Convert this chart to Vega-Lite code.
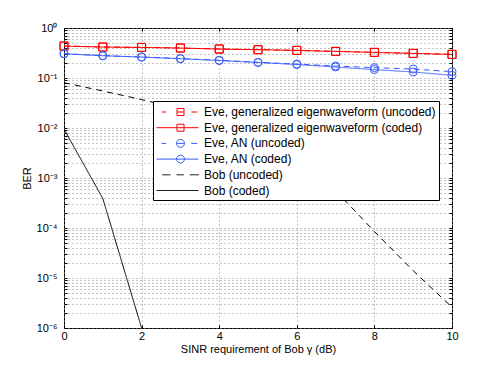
{
  "$schema": "https://vega.github.io/schema/vega-lite/v6.json",
  "autosize": "none",
  "width": 388,
  "height": 300,
  "padding": {"left": 64, "top": 28, "right": 46, "bottom": 42},
  "background": "white",
  "config": {
    "font": "Liberation Sans",
    "view": {"stroke": "black", "strokeWidth": 1},
    "axis": {
      "labelFont": "Liberation Sans", "labelFontSize": 11, "labelColor": "black",
      "titleFont": "Liberation Sans", "titleFontSize": 11, "titleFontWeight": "normal", "titleColor": "black",
      "domain": false, "tickColor": "black", "tickSize": -3, "tickWidth": 1,
      "gridColor": "#888", "gridDash": [1, 3], "gridWidth": 1, "gridOpacity": 1
    },
    "legend": {
      "orient": "none", "legendX": 89, "legendY": 73,
      "padding": 3, "strokeColor": "black", "fillColor": "white",
      "symbolSize": 225, "symbolStrokeWidth": 1, "labelOffset": 32,
      "labelFont": "Liberation Sans", "labelFontSize": 12, "labelColor": "black",
      "labelLimit": 0, "rowPadding": 1.7, "title": null
    }
  },
  "data": {
    "values": [
      {"series": "Eve, generalized eigenwaveform (uncoded)", "x": 0, "ber": 0.436},
      {"series": "Eve, generalized eigenwaveform (uncoded)", "x": 1, "ber": 0.417},
      {"series": "Eve, generalized eigenwaveform (uncoded)", "x": 2, "ber": 0.41},
      {"series": "Eve, generalized eigenwaveform (uncoded)", "x": 3, "ber": 0.398},
      {"series": "Eve, generalized eigenwaveform (uncoded)", "x": 4, "ber": 0.38},
      {"series": "Eve, generalized eigenwaveform (uncoded)", "x": 5, "ber": 0.369},
      {"series": "Eve, generalized eigenwaveform (uncoded)", "x": 6, "ber": 0.357},
      {"series": "Eve, generalized eigenwaveform (uncoded)", "x": 7, "ber": 0.341},
      {"series": "Eve, generalized eigenwaveform (uncoded)", "x": 8, "ber": 0.326},
      {"series": "Eve, generalized eigenwaveform (uncoded)", "x": 9, "ber": 0.311},
      {"series": "Eve, generalized eigenwaveform (uncoded)", "x": 10, "ber": 0.297},
      {"series": "Eve, generalized eigenwaveform (coded)", "x": 0, "ber": 0.434},
      {"series": "Eve, generalized eigenwaveform (coded)", "x": 1, "ber": 0.416},
      {"series": "Eve, generalized eigenwaveform (coded)", "x": 2, "ber": 0.408},
      {"series": "Eve, generalized eigenwaveform (coded)", "x": 3, "ber": 0.397},
      {"series": "Eve, generalized eigenwaveform (coded)", "x": 4, "ber": 0.379},
      {"series": "Eve, generalized eigenwaveform (coded)", "x": 5, "ber": 0.368},
      {"series": "Eve, generalized eigenwaveform (coded)", "x": 6, "ber": 0.356},
      {"series": "Eve, generalized eigenwaveform (coded)", "x": 7, "ber": 0.34},
      {"series": "Eve, generalized eigenwaveform (coded)", "x": 8, "ber": 0.325},
      {"series": "Eve, generalized eigenwaveform (coded)", "x": 9, "ber": 0.31},
      {"series": "Eve, generalized eigenwaveform (coded)", "x": 10, "ber": 0.296},
      {"series": "Eve, AN (uncoded)", "x": 0, "ber": 0.307},
      {"series": "Eve, AN (uncoded)", "x": 1, "ber": 0.28},
      {"series": "Eve, AN (uncoded)", "x": 2, "ber": 0.263},
      {"series": "Eve, AN (uncoded)", "x": 3, "ber": 0.244},
      {"series": "Eve, AN (uncoded)", "x": 4, "ber": 0.226},
      {"series": "Eve, AN (uncoded)", "x": 5, "ber": 0.206},
      {"series": "Eve, AN (uncoded)", "x": 6, "ber": 0.19},
      {"series": "Eve, AN (uncoded)", "x": 7, "ber": 0.174},
      {"series": "Eve, AN (uncoded)", "x": 8, "ber": 0.161},
      {"series": "Eve, AN (uncoded)", "x": 9, "ber": 0.151},
      {"series": "Eve, AN (uncoded)", "x": 10, "ber": 0.134},
      {"series": "Eve, AN (coded)", "x": 0, "ber": 0.305},
      {"series": "Eve, AN (coded)", "x": 1, "ber": 0.279},
      {"series": "Eve, AN (coded)", "x": 2, "ber": 0.262},
      {"series": "Eve, AN (coded)", "x": 3, "ber": 0.243},
      {"series": "Eve, AN (coded)", "x": 4, "ber": 0.224},
      {"series": "Eve, AN (coded)", "x": 5, "ber": 0.204},
      {"series": "Eve, AN (coded)", "x": 6, "ber": 0.186},
      {"series": "Eve, AN (coded)", "x": 7, "ber": 0.166},
      {"series": "Eve, AN (coded)", "x": 8, "ber": 0.147},
      {"series": "Eve, AN (coded)", "x": 9, "ber": 0.132},
      {"series": "Eve, AN (coded)", "x": 10, "ber": 0.113},
      {"series": "Bob (uncoded)", "x": 0, "ber": 0.0805},
      {"series": "Bob (uncoded)", "x": 1, "ber": 0.055},
      {"series": "Bob (uncoded)", "x": 2, "ber": 0.037},
      {"series": "Bob (uncoded)", "x": 3, "ber": 0.024},
      {"series": "Bob (uncoded)", "x": 4, "ber": 0.0135},
      {"series": "Bob (uncoded)", "x": 5, "ber": 0.0063},
      {"series": "Bob (uncoded)", "x": 6, "ber": 0.0022},
      {"series": "Bob (uncoded)", "x": 7, "ber": 0.00056},
      {"series": "Bob (uncoded)", "x": 8, "ber": 0.000085},
      {"series": "Bob (uncoded)", "x": 9, "ber": 0.000014},
      {"series": "Bob (uncoded)", "x": 10, "ber": 0.0000026},
      {"series": "Bob (coded)", "x": 0, "ber": 0.0095},
      {"series": "Bob (coded)", "x": 1, "ber": 0.00039},
      {"series": "Bob (coded)", "x": 2, "ber": 0.000001}
    ]
  },
  "resolve": {
    "scale": {"color": "independent", "shape": "independent", "strokeDash": "independent"},
    "axis": {"x": "independent", "y": "independent"}
  },
  "layer": [
    {
      "mark": {"type": "line", "strokeWidth": 1, "clip": true},
      "encoding": {
        "x": {
          "field": "x", "type": "quantitative",
          "scale": {"domain": [0, 10], "nice": false, "zero": false},
          "axis": {"values": [0, 2, 4, 6, 8, 10], "title": "SINR requirement of Bob γ (dB)", "labelPadding": 5, "titlePadding": 2, "labelFlush": false}
        },
        "y": {
          "field": "ber", "type": "quantitative",
          "scale": {"type": "log", "domain": [0.000001, 1], "nice": false},
          "axis": {
            "title": "BER", "titlePadding": 4, "labelPadding": 10, "labelOverlap": false, "labelBound": false,
            "values": [0.000001,0.000002,0.000003,0.000004,0.000005,0.000006,0.000007,0.000008,0.000009,
                       0.00001,0.00002,0.00003,0.00004,0.00005,0.00006,0.00007,0.00008,0.00009,
                       0.0001,0.0002,0.0003,0.0004,0.0005,0.0006,0.0007,0.0008,0.0009,
                       0.001,0.002,0.003,0.004,0.005,0.006,0.007,0.008,0.009,
                       0.01,0.02,0.03,0.04,0.05,0.06,0.07,0.08,0.09,
                       0.1,0.2,0.3,0.4,0.5,0.6,0.7,0.8,0.9,1],
            "labelExpr": "abs(log(datum.value)/LN10 - round(log(datum.value)/LN10)) < 0.001 ? '10' + (round(log(datum.value)/LN10) < 0 ? '⁻' : '') + ['⁰','¹','²','³','⁴','⁵','⁶'][abs(round(log(datum.value)/LN10))] : ''"
          }
        },
        "color": {
          "field": "series", "type": "nominal", "legend": null,
          "scale": {
            "domain": ["Eve, generalized eigenwaveform (uncoded)", "Eve, generalized eigenwaveform (coded)", "Eve, AN (uncoded)", "Eve, AN (coded)", "Bob (uncoded)", "Bob (coded)"],
            "range": ["#ff0000", "#ff0000", "#3a5cff", "#3a5cff", "#000000", "#000000"]
          }
        },
        "strokeDash": {
          "field": "series", "type": "nominal", "legend": null,
          "scale": {
            "domain": ["Eve, generalized eigenwaveform (uncoded)", "Eve, generalized eigenwaveform (coded)", "Eve, AN (uncoded)", "Eve, AN (coded)", "Bob (uncoded)", "Bob (coded)"],
            "range": [[6, 4], [1, 0], [6, 4], [1, 0], [6, 5], [1, 0]]
          }
        }
      }
    },
    {
      "transform": [{"filter": "indexof(datum.series, 'Bob') < 0"}],
      "mark": {"type": "point", "filled": false, "size": 64, "strokeWidth": 1, "opacity": 1, "clip": false},
      "encoding": {
        "x": {
          "field": "x", "type": "quantitative",
          "scale": {"domain": [0, 10], "nice": false, "zero": false},
          "axis": {"orient": "top", "values": [0, 2, 4, 6, 8, 10], "labels": false, "grid": false, "title": null}
        },
        "y": {
          "field": "ber", "type": "quantitative",
          "scale": {"type": "log", "domain": [0.000001, 1], "nice": false},
          "axis": {
            "orient": "right", "labels": false, "grid": false, "title": null,
            "values": [0.000001,0.000002,0.000003,0.000004,0.000005,0.000006,0.000007,0.000008,0.000009,
                       0.00001,0.00002,0.00003,0.00004,0.00005,0.00006,0.00007,0.00008,0.00009,
                       0.0001,0.0002,0.0003,0.0004,0.0005,0.0006,0.0007,0.0008,0.0009,
                       0.001,0.002,0.003,0.004,0.005,0.006,0.007,0.008,0.009,
                       0.01,0.02,0.03,0.04,0.05,0.06,0.07,0.08,0.09,
                       0.1,0.2,0.3,0.4,0.5,0.6,0.7,0.8,0.9,1]
          }
        },
        "color": {
          "field": "series", "type": "nominal", "legend": null,
          "scale": {
            "domain": ["Eve, generalized eigenwaveform (uncoded)", "Eve, generalized eigenwaveform (coded)", "Eve, AN (uncoded)", "Eve, AN (coded)"],
            "range": ["#ff0000", "#ff0000", "#3a5cff", "#3a5cff"]
          }
        },
        "shape": {
          "field": "series", "type": "nominal", "legend": null,
          "scale": {
            "domain": ["Eve, generalized eigenwaveform (uncoded)", "Eve, generalized eigenwaveform (coded)", "Eve, AN (uncoded)", "Eve, AN (coded)"],
            "range": ["square", "square", "circle", "circle"]
          }
        }
      }
    },
    {
      "transform": [{"filter": "datum.x < 0"}],
      "mark": {"type": "point", "filled": false, "size": 225, "strokeWidth": 1, "opacity": 1},
      "encoding": {
        "color": {
          "field": "series", "type": "nominal",
          "scale": {
            "domain": ["Eve, generalized eigenwaveform (uncoded)", "Eve, generalized eigenwaveform (coded)", "Eve, AN (uncoded)", "Eve, AN (coded)", "Bob (uncoded)", "Bob (coded)"],
            "range": ["#ff0000", "#ff0000", "#3a5cff", "#3a5cff", "#222222", "#222222"]
          }
        },
        "shape": {
          "field": "series", "type": "nominal",
          "scale": {
            "domain": ["Eve, generalized eigenwaveform (uncoded)", "Eve, generalized eigenwaveform (coded)", "Eve, AN (uncoded)", "Eve, AN (coded)", "Bob (uncoded)", "Bob (coded)"],
            "range": [
              "M-0.33,0 L0.29,0 M3.63,0 L4.43,0 M1.73,-0.47 L2.67,-0.47 L2.67,0.47 L1.73,0.47 Z M1.73,0 L2.67,0",
              "M-1,0 L4.6,0 M1.73,-0.47 L2.67,-0.47 L2.67,0.47 L1.73,0.47 Z",
              "M-0.33,0 L0.29,0 M3.63,0 L4.43,0 M2.73,0 A0.53,0.53 0 1,1 1.67,0 A0.53,0.53 0 1,1 2.73,0 M1.67,0 L2.73,0",
              "M-1,0 L4.6,0 M2.73,0 A0.53,0.53 0 1,1 1.67,0 A0.53,0.53 0 1,1 2.73,0",
              "M-0.24,0 L0.87,0 M1.67,0 L2.64,0 M3.44,0 L4.64,0",
              "M-1,0 L4.6,0"
            ]
          }
        }
      }
    }
  ]
}
